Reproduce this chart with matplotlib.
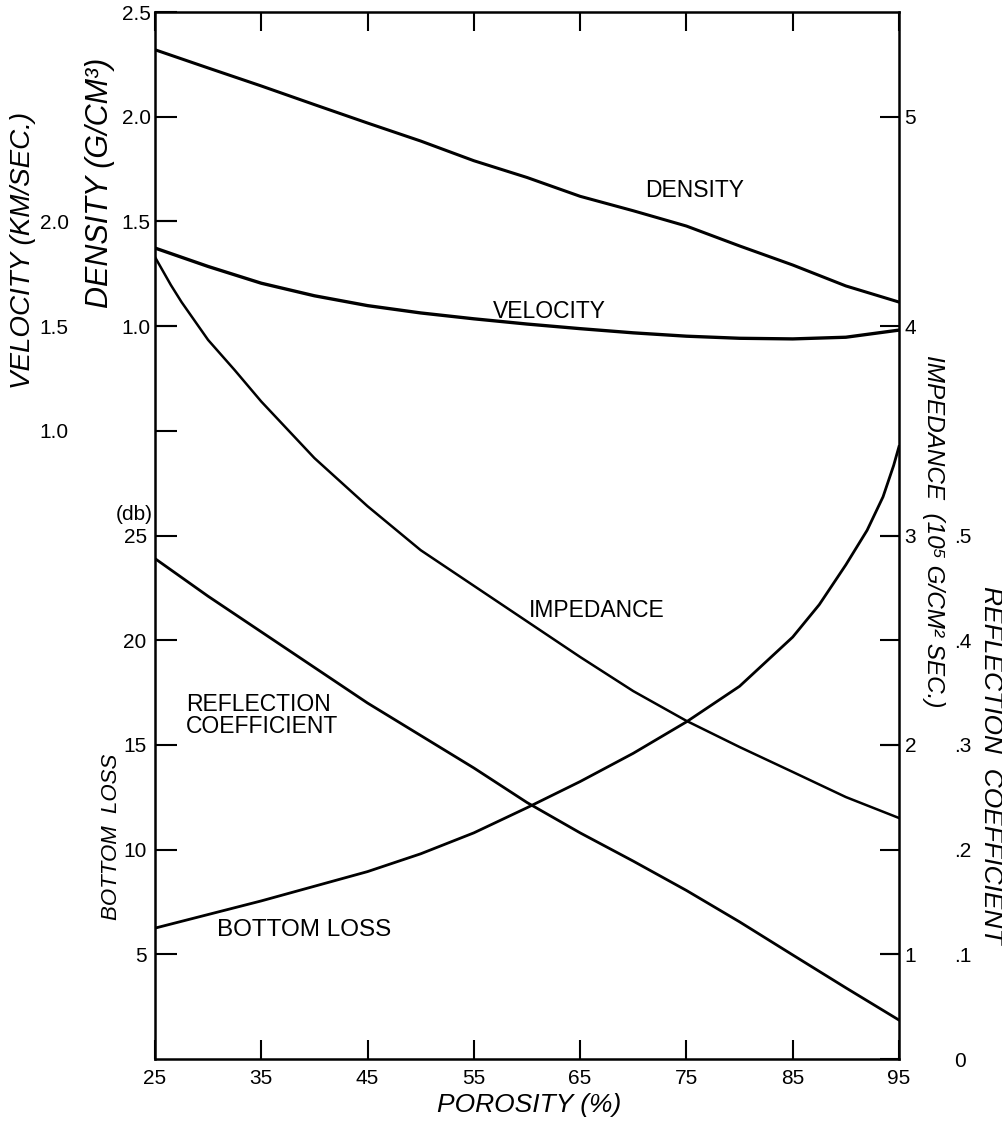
import matplotlib.pyplot as plt

plt.rcParams['font.family'] = ['Liberation Sans', 'DejaVu Sans']

# values
porosity = [25, 30, 35, 40, 45, 50, 55, 60, 65, 70, 75, 80, 85, 90, 95]
density = [2.32, 2.233, 2.147, 2.058, 1.97, 1.884, 1.79, 1.71, 1.62, 1.551,
           1.478, 1.383, 1.292, 1.192, 1.115]
velocity = [1.873, 1.785, 1.705, 1.645, 1.598, 1.563, 1.535, 1.510, 1.488,
            1.468, 1.452, 1.442, 1.439, 1.447, 1.481]
bottom_loss = [23.9, 22.1, 20.4, 18.7, 17.0, 15.45, 13.9, 12.25, 10.8, 9.45,
               8.05, 6.55, 4.97, 3.4, 1.86]

imp_porosity = [25, 26.5, 27.5, 30, 32.5, 35, 40, 45, 50, 55, 60, 65, 70, 75,
                80, 85, 90, 95]
impedance = [4.33, 4.196, 4.115, 3.934, 3.79, 3.64, 3.37, 3.14, 2.93, 2.76,
             2.59, 2.42, 2.257, 2.115, 1.99, 1.871, 1.751, 1.651]

refl_porosity = [25, 30, 35, 40, 45, 50, 55, 60, 65, 70, 75, 80, 85, 87.5, 90,
                 92, 93.5, 94.5, 95]
reflection = [0.125, 0.138, 0.151, 0.165, 0.179, 0.196, 0.216, 0.240, 0.265,
              0.292, 0.322, 0.356, 0.403, 0.434, 0.472, 0.505, 0.537, 0.567,
              0.585]

x_ticks = [25, 35, 45, 55, 65, 75, 85, 95]
density_ticks = [1.0, 1.5, 2.0, 2.5]
velocity_ticks = [1.0, 1.5, 2.0]
loss_ticks = [5, 10, 15, 20, 25]
impedance_ticks = [1, 2, 3, 4, 5]
reflection_ticks = [0, 0.1, 0.2, 0.3, 0.4, 0.5]
reflection_labels = ['0', '.1', '.2', '.3', '.4', '.5']

fig = plt.figure(figsize=(10.03, 11.26), dpi=100)
ax = fig.add_axes([0.1545, 0.0595, 0.7418, 0.9298])

# one twin axis per quantity, limits chosen so all tick marks line up
ax_v = ax.twinx()
ax_db = ax.twinx()
ax_imp = ax.twinx()
ax_r = ax.twinx()

ax.set_xlim(25, 95)
ax.set_ylim(-2.5, 2.5)
ax_v.set_ylim(-2, 3)
ax_db.set_ylim(0, 50)
ax_imp.set_ylim(0.5, 5.5)
ax_r.set_ylim(0, 1)

for sp in ax.spines.values():
    sp.set_linewidth(1.8)
for a in [ax_v, ax_db, ax_imp, ax_r]:
    for sp in a.spines.values():
        sp.set_visible(False)

tick_font = 15
ax.set_xticks(x_ticks)
ax.set_xticklabels([str(t) for t in x_ticks], fontsize=tick_font)
ax.tick_params(axis='x', direction='in', top=True, length=14, width=1.5, pad=7)

ax.set_yticks(density_ticks)
ax.set_yticklabels(['1.0', '1.5', '2.0', '2.5'], fontsize=tick_font)
ax.tick_params(axis='y', direction='in', length=16, width=1.5, pad=3)

ax_v.yaxis.set_ticks_position('left')
ax_v.set_yticks(velocity_ticks)
ax_v.set_yticklabels(['1.0', '1.5', '2.0'], fontsize=tick_font)
ax_v.tick_params(axis='y', direction='in', length=16, width=1.5, pad=62)

ax_db.yaxis.set_ticks_position('left')
ax_db.set_yticks(loss_ticks)
ax_db.set_yticklabels([str(t) for t in loss_ticks], fontsize=tick_font)
ax_db.tick_params(axis='y', direction='in', length=16, width=1.5, pad=6)

ax_imp.set_yticks(impedance_ticks)
ax_imp.set_yticklabels([str(t) for t in impedance_ticks], fontsize=tick_font)
ax_imp.tick_params(axis='y', direction='in', length=14, width=1.5, pad=4)

ax_r.set_yticks(reflection_ticks)
ax_r.set_yticklabels(reflection_labels, fontsize=tick_font)
ax_r.tick_params(axis='y', direction='in', length=14, width=1.5, pad=40)

# curves
ax.plot(porosity, density, color='black', lw=2.2)
ax_v.plot(porosity, velocity, color='black', lw=2.4)
ax_db.plot(porosity, bottom_loss, color='black', lw=2.0)
ax_imp.plot(imp_porosity, impedance, color='black', lw=1.8)
ax_r.plot(refl_porosity, reflection, color='black', lw=2.0)

# curve labels
lab = 16.5
ax.text(71.1, 1.65, 'DENSITY', fontsize=lab, va='center')
ax_v.text(56.8, 1.572, 'VELOCITY', fontsize=lab, va='center')
ax_imp.text(60.2, 2.64, 'IMPEDANCE', fontsize=lab, va='center')
ax_r.text(27.9, 0.328, 'REFLECTION\nCOEFFICIENT', fontsize=lab, va='center',
          linespacing=0.95)
ax_db.text(30.8, 6.16, 'BOTTOM LOSS', fontsize=17.5, va='center')

# axis titles
fig.text(0.023, 0.778, 'VELOCITY (KM/SEC.)', rotation=90, style='italic',
         fontsize=20, ha='center', va='center')
fig.text(0.0997, 0.838, 'DENSITY (G/CM³)', rotation=90, style='italic',
         fontsize=22, ha='center', va='center')
fig.text(0.111, 0.2567, 'BOTTOM  LOSS', rotation=90, style='italic',
         fontsize=16, ha='center', va='center')
fig.text(153 / 1003, (1126 - 515) / 1126, '(db)', fontsize=tick_font,
         ha='right', va='center')
fig.text(0.931, 0.528, 'IMPEDANCE  (10⁵ G/CM² SEC.)', rotation=270,
         style='italic', fontsize=17.5, ha='center', va='center')
fig.text(0.988, 0.3206, 'REFLECTION  COEFFICIENT', rotation=270,
         style='italic', fontsize=19, ha='center', va='center')
fig.text(0.528, 0.0187, 'POROSITY (%)', style='italic', fontsize=19,
         ha='center', va='center')

fig.savefig('out.png', dpi=100)
